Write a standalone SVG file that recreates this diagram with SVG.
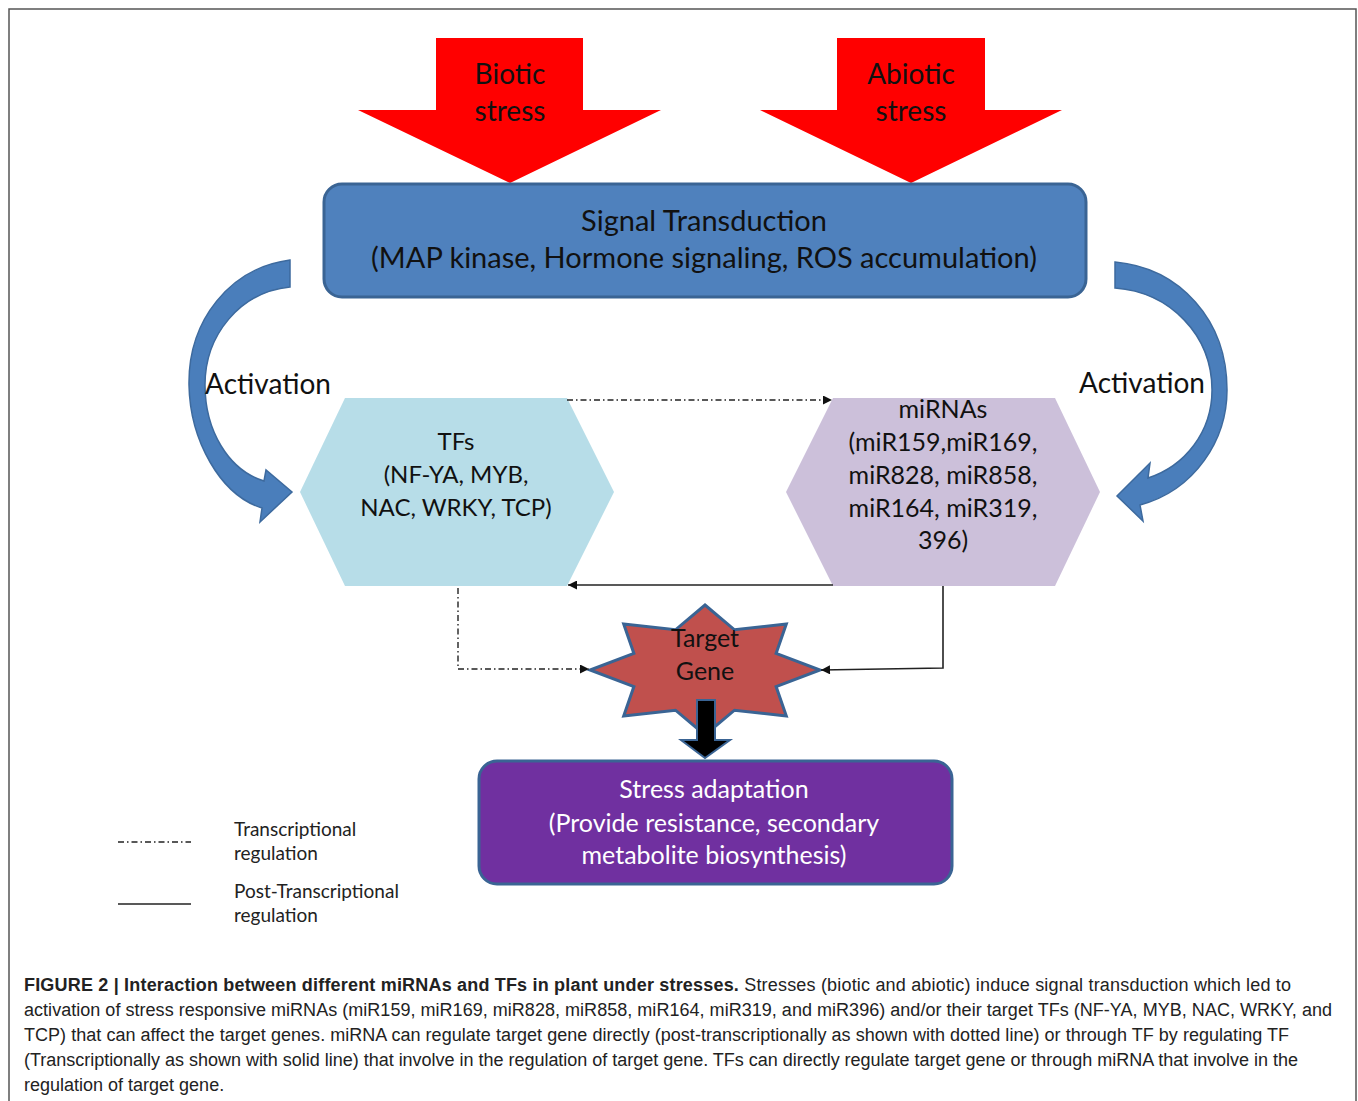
<svg xmlns="http://www.w3.org/2000/svg" width="1358" height="1101" viewBox="0 0 1358 1101">
<defs>
<style>
.lbl{font-family:Lato,"Open Sans","DejaVu Sans",sans-serif;fill:#111;text-anchor:middle}
.big{font-size:29px}
.mid{font-size:25px}
.leg{font-family:Lato,"Open Sans",sans-serif;font-size:19px;fill:#222}
.cap{font-family:"Liberation Sans",Arial,sans-serif;font-size:18px;fill:#222}
.dd{fill:none;stroke:#222;stroke-width:1.4;stroke-dasharray:6 3 1.5 3}
.sol{fill:none;stroke:#222;stroke-width:1.6}
.curve{fill:#4A7EBB;stroke:#3D6A9E;stroke-width:1.5}
.red{fill:#FF0000}
</style>
<marker id="ah" viewBox="0 0 10 10" refX="10" refY="5" markerWidth="10" markerHeight="9" markerUnits="userSpaceOnUse" orient="auto">
<path d="M0,0 L10,5 L0,10 Z" fill="#111"/>
</marker>
</defs>
<rect x="0" y="0" width="1358" height="1101" fill="#fff"/>
<path d="M9,1101 V9 H1356 V1101" fill="none" stroke="#555" stroke-width="1.5"/>

<g id="biotic">
<path class="red" d="M436,38 H583 V110 H661 L510,183 L358,110 H436 Z"/>
<text class="lbl" style="font-size:28px" x="510" y="84">Biotic</text>
<text class="lbl" style="font-size:28px" x="510" y="121">stress</text>
</g>
<g id="abiotic">
<path class="red" d="M837,38 H985 V110 H1062 L911,183 L760,110 H837 Z"/>
<text class="lbl" style="font-size:28px" x="911" y="84">Abiotic</text>
<text class="lbl" style="font-size:28px" x="911" y="121">stress</text>
</g>

<g id="signal">
<rect x="324" y="184" width="762" height="113" rx="18" fill="#4F81BD" stroke="#3A6494" stroke-width="3"/>
<text class="lbl big" x="704" y="231">Signal Transduction</text>
<text class="lbl big" x="704" y="268">(MAP kinase, Hormone signaling, ROS accumulation)</text>
</g>

<g id="act-left">
<path class="curve" d="M290,260 C230,268 188,320 189,385 C190,440 220,495 262,508 L260,522 L292,492 L266,470 L264,481 C228,470 205,430 205,385 C205,335 240,292 290,287 Z"/>
<text class="lbl" style="font-size:28px" x="268" y="394">Activation</text>
</g>
<g id="act-right">
<path class="curve" d="M1115,262 C1180,268 1227,320 1227,390 C1227,440 1195,490 1140,505 L1143,521 L1117,496 L1150,463 L1148,478 C1185,466 1212,432 1212,390 C1212,335 1170,292 1115,288 Z"/>
<text class="lbl" style="font-size:28px" x="1142" y="393">Activation</text>
</g>

<g id="tfs">
<path d="M345,398 H567 L614,492 L567,586 H345 L300,492 Z" fill="#B7DDE8"/>
<text class="lbl" style="font-size:24px" x="456" y="450">TFs</text>
<text class="lbl" style="font-size:24px" x="456" y="483">(NF-YA, MYB,</text>
<text class="lbl" style="font-size:24px" x="456" y="516">NAC, WRKY, TCP)</text>
</g>

<g id="mirnas">
<path d="M833,398 H1055 L1100,492 L1055,586 H833 L786,492 Z" fill="#CCC0DA"/>
<text class="lbl mid" x="943" y="418">miRNAs</text>
<text class="lbl mid" x="943" y="451">(miR159,miR169,</text>
<text class="lbl mid" x="943" y="484">miR828, miR858,</text>
<text class="lbl mid" x="943" y="517">miR164, miR319,</text>
<text class="lbl mid" x="943" y="549">396)</text>
</g>

<g id="target">
<path d="M705,605 L734.5,629.8 L786.3,624 L776.1,653.4 L820,670 L776.1,686.6 L786.3,716 L734.5,710.2 L705,735 L675.5,710.2 L623.7,716 L633.9,686.6 L590,670 L633.9,653.4 L623.7,624 L675.5,629.8 Z" fill="#C0504D" stroke="#3A6494" stroke-width="3" stroke-linejoin="miter"/>
<text class="lbl mid" x="705" y="647">Target</text>
<text class="lbl mid" x="705" y="680">Gene</text>
</g>

<g id="stress-adaptation">
<rect x="479" y="761" width="473" height="123" rx="18" fill="#7030A0" stroke="#3A6494" stroke-width="3"/>
<text class="lbl mid" style="fill:#fff" x="714" y="798">Stress adaptation</text>
<text class="lbl mid" style="fill:#fff" x="714" y="832">(Provide resistance, secondary</text>
<text class="lbl mid" style="fill:#fff" x="714" y="864">metabolite biosynthesis)</text>
</g>

<g id="connectors">
<path class="dd" d="M567,400 H832" marker-end="url(#ah)"/>
<path class="sol" d="M833,585 H568" marker-end="url(#ah)"/>
<path class="dd" d="M458,588 V669 H589" marker-end="url(#ah)"/>
<path class="sol" d="M943,586 V668 L821,670" marker-end="url(#ah)"/>
<path d="M697,700 H715 V740 H730 L705,758 L681,740 H697 Z" fill="#000" stroke="#3A6494" stroke-width="2"/>
</g>

<g id="legend">
<path class="dd" d="M118,842 H191"/>
<path class="sol" d="M118,904 H191"/>
<text class="leg" x="234" y="836">Transcriptional</text>
<text class="leg" x="234" y="860">regulation</text>
<text class="leg" x="234" y="898">Post-Transcriptional</text>
<text class="leg" x="234" y="922">regulation</text>
</g>

<g id="caption">
<text class="cap" x="24" y="991" textLength="1267" lengthAdjust="spacing"><tspan font-weight="bold">FIGURE 2 | Interaction between different miRNAs and TFs in plant under stresses.</tspan> Stresses (biotic and abiotic) induce signal transduction which led to</text>
<text class="cap" x="24" y="1016" textLength="1308" lengthAdjust="spacing">activation of stress responsive miRNAs (miR159, miR169, miR828, miR858, miR164, miR319, and miR396) and/or their target TFs (NF-YA, MYB, NAC, WRKY, and</text>
<text class="cap" x="24" y="1041" textLength="1265" lengthAdjust="spacing">TCP) that can affect the target genes. miRNA can regulate target gene directly (post-transcriptionally as shown with dotted line) or through TF by regulating TF</text>
<text class="cap" x="24" y="1066" textLength="1274" lengthAdjust="spacing">(Transcriptionally as shown with solid line) that involve in the regulation of target gene. TFs can directly regulate target gene or through miRNA that involve in the</text>
<text class="cap" x="24" y="1091">regulation of target gene.</text>
</g>
</svg>
